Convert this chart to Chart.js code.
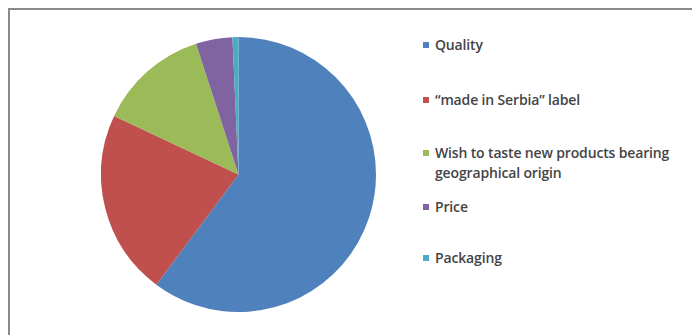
<!DOCTYPE html>
<html>
<head>
<meta charset="utf-8">
<script src="https://cdn.jsdelivr.net/npm/chart.js@4"></script>
<style>
  html, body { margin: 0; padding: 0; background: #fff; }
  #wrap { position: relative; width: 692px; height: 335px; overflow: hidden; background: #fff; }
  #frame { position: absolute; left: 8px; top: 8px; width: 700px; height: 340px; border-left: 2px solid #8a8a8a; border-top: 2px solid #8a8a8a; box-sizing: border-box; }
  #pie { position: absolute; left: 101px; top: 37px; }
  .lg { position: absolute; left: 423px; font-family: "Open Sans", "Liberation Sans", sans-serif; font-size: 14px; font-weight: 600; color: #444; line-height: 20px; white-space: nowrap; letter-spacing: -0.15px; }
  .lg .sw { position: absolute; left: 0; top: 7px; width: 6px; height: 6px; }
  .lg .tx { position: absolute; left: 12px; top: 0; }
</style>
</head>
<body>
<div id="wrap">
  <div id="frame"></div>
  <canvas id="pie" width="275" height="275"></canvas>
  <div id="legend"></div>
</div>
<script>
const categories = ["Quality", "\u201cmade in Serbia\u201d label", "Wish to taste new products bearing geographical origin", "Price", "Packaging"];
const legendLines = [["Quality"], ["\u201cmade in Serbia\u201d label"], ["Wish to taste new products bearing", "geographical origin"], ["Price"], ["Packaging"]];
const shares = [60.2, 21.8, 13.0, 4.3, 0.7];
const colors = ["#4F81BD", "#C0504D", "#9BBB59", "#8064A2", "#4BACC6"];
const legendTops = [35, 90, 143, 197, 248];

new Chart(document.getElementById("pie"), {
  type: "pie",
  data: {
    labels: categories,
    datasets: [{ data: shares, backgroundColor: colors, borderWidth: 0 }]
  },
  options: {
    responsive: false,
    animation: false,
    layout: { padding: 0 },
    plugins: { legend: { display: false }, tooltip: { enabled: false } }
  }
});

const lg = document.getElementById("legend");
legendLines.forEach((lines, i) => {
  const d = document.createElement("div");
  d.className = "lg";
  d.style.top = legendTops[i] + "px";
  d.style.height = (lines.length * 20) + "px";
  const sw = document.createElement("div");
  sw.className = "sw";
  sw.style.background = colors[i];
  d.appendChild(sw);
  const tx = document.createElement("div");
  tx.className = "tx";
  tx.innerHTML = lines.map(s => s.replace(/&/g, "&amp;")).join("<br>");
  d.appendChild(tx);
  lg.appendChild(d);
});
</script>
</body>
</html>
